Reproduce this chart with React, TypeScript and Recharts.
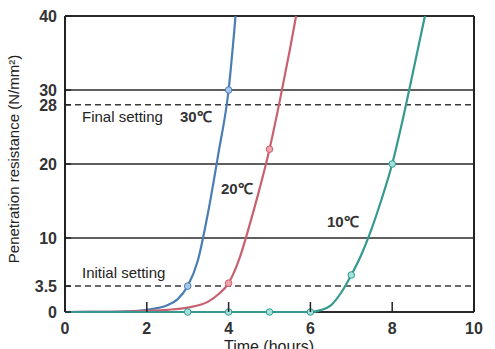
import { ComposedChart, Line, Scatter, XAxis, YAxis, ReferenceLine } from 'recharts';

const xTicks = [0, 2, 4, 6, 8, 10];
const yTicks = [0, 3.5, 10, 20, 28, 30, 40];
const solidLevels = [0, 10, 20, 30, 40];
const settingLevels = [3.5, 28];

// 30°C curve
const hours30 = [0, 1, 1.5, 2, 2.5, 2.75, 3, 3.25, 3.5, 3.75, 4, 4.17];
const resist30 = [0, 0.02, 0.08, 0.3, 0.9, 1.7, 3.5, 7, 13.5, 21.4, 30, 40];
const markHours30 = [3, 4];
const markResist30 = [3.5, 30];

// 20°C curve
const hours20 = [0, 1, 2, 2.5, 3, 3.5, 3.75, 4, 4.25, 4.5, 4.75, 5, 5.25, 5.5, 5.65];
const resist20 = [0, 0.02, 0.15, 0.3, 0.6, 1.4, 2.4, 3.9, 7, 11.5, 16.5, 22, 28.5, 35.5, 40];
const markHours20 = [4, 5];
const markResist20 = [3.9, 22];

// 10°C curve
const hours10 = [0, 3, 4, 5, 6, 6.25, 6.5, 6.75, 7, 7.25, 7.5, 7.75, 8, 8.25, 8.5, 8.8];
const resist10 = [0, 0, 0, 0, 0, 0.25, 0.9, 2.6, 5, 7.8, 11.3, 15.4, 20, 25.8, 32.2, 40];
const markHours10 = [3, 4, 5, 6, 7, 8];
const markResist10 = [0, 0, 0, 0, 5, 20];

const zip = (hs: number[], rs: number[]) => hs.map((h, i) => ({ h, r: rs[i] }));

const series = [
  { name: '30', color: '#4a7db3', fill: '#a9c6ee', curve: zip(hours30, resist30), marks: zip(markHours30, markResist30) },
  { name: '20', color: '#c8616f', fill: '#f1a3ab', curve: zip(hours20, resist20), marks: zip(markHours20, markResist20) },
  { name: '10', color: '#36998f', fill: '#a3e2dc', curve: zip(hours10, resist10), marks: zip(markHours10, markResist10) },
];

const font = '"Liberation Sans", Arial, sans-serif';

function XTick({ x, y, payload }: any) {
  const v = payload.value;
  return (
    <g>
      {v > 0 && v < 10 && <line x1={x} x2={x} y1={y} y2={y - 10} stroke="#222" strokeWidth={1.5} />}
      <text x={x} y={y + 22} textAnchor="middle" fontSize={16} fontWeight="bold" fill="#333" fontFamily={font}>
        {v}
      </text>
    </g>
  );
}

function YTick({ x, y, payload }: any) {
  return (
    <g>
      <line x1={x} x2={x + 6} y1={y} y2={y} stroke="#222" strokeWidth={1.5} />
      <text x={x - 8} y={y + 6} textAnchor="end" fontSize={16} fontWeight="bold" fill="#333" fontFamily={font}>
        {payload.value}
      </text>
    </g>
  );
}

const dotShape = (color: string, fill: string) => (p: any) =>
  <circle cx={p.cx} cy={p.cy} r={3.3} fill={fill} stroke={color} strokeWidth={1} />;

export default function App() {
  return (
    <div style={{ position: 'absolute', left: 0, top: 0, width: 495, height: 349, background: '#fff', fontFamily: font }}>
      <ComposedChart width={495} height={349} margin={{ top: 16, right: 21, bottom: 0, left: 0 }}>
        <XAxis
          type="number"
          dataKey="h"
          domain={[0, 10]}
          ticks={xTicks}
          interval={0}
          height={37}
          tickSize={0}
          tickMargin={0}
          tick={<XTick />}
          axisLine={false}
        />
        <YAxis
          type="number"
          dataKey="r"
          domain={[0, 40]}
          ticks={yTicks}
          interval={0}
          width={65}
          tickSize={0}
          tickMargin={0}
          tick={<YTick />}
          axisLine={{ stroke: '#222', strokeWidth: 2 }}
        />
        {solidLevels.map((v) => (
          <ReferenceLine key={v} y={v} stroke="#2a2a2a" strokeWidth={v === 40 || v === 0 ? 2 : 1.5} ifOverflow="visible" />
        ))}
        {settingLevels.map((v) => (
          <ReferenceLine key={v} y={v} stroke="#3a3a3a" strokeWidth={1.5} strokeDasharray="6 4" />
        ))}
        <ReferenceLine x={10} stroke="#222" strokeWidth={2} ifOverflow="visible" />
        {series.map((s) => (
          <Line
            key={s.name}
            data={s.curve}
            dataKey="r"
            type="monotone"
            stroke={s.color}
            strokeWidth={2.2}
            dot={false}
            activeDot={false}
            isAnimationActive={false}
          />
        ))}
        {series.map((s) => (
          <Scatter key={'m' + s.name} data={s.marks} dataKey="r" shape={dotShape(s.color, s.fill)} isAnimationActive={false} />
        ))}
      </ComposedChart>
      <svg width={495} height={349} style={{ position: 'absolute', left: 0, top: 0, pointerEvents: 'none' }}>
        <g fontFamily={font} fill="#222">
          <text x={82} y={122} fontSize={15}>Final setting</text>
          <text x={82} y={278} fontSize={15}>Initial setting</text>
          <text x={180} y={122} fontSize={15} fontWeight="bold" fill="#333">30℃</text>
          <text x={221} y={194} fontSize={15} fontWeight="bold" fill="#333">20℃</text>
          <text x={327} y={227} fontSize={15} fontWeight="bold" fill="#333">10℃</text>
          <text x={269} y={352} fontSize={16} textAnchor="middle">Time (hours)</text>
          <text transform="translate(19,159) rotate(-90)" fontSize={15} textAnchor="middle">
            Penetration resistance (N/mm²)
          </text>
        </g>
      </svg>
    </div>
  );
}
